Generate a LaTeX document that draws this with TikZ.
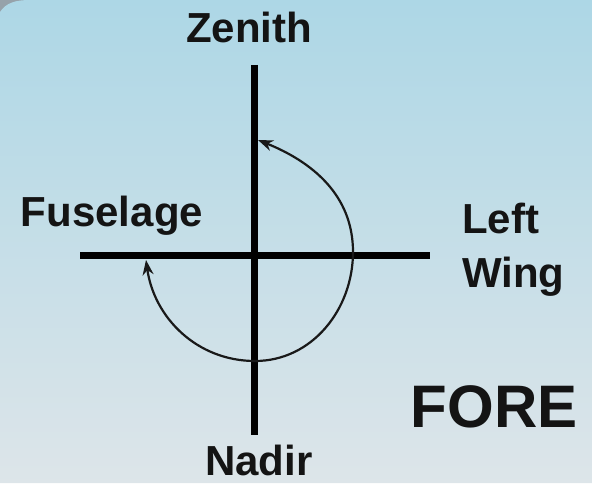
\documentclass[tikz,border=0pt]{standalone}
\usepackage{fontspec}
\setmainfont{Liberation Sans}
\usetikzlibrary{arrows.meta, positioning}
\definecolor{skytop}{RGB}{173,215,230}
\definecolor{skymid}{RGB}{190,220,232}
\definecolor{skybot}{RGB}{221,229,233}
\definecolor{rim}{RGB}{150,162,170}

\begin{document}
\begin{tikzpicture}[x=1pt, y=1pt,
    lbl/.style={font=\fontsize{42}{54}\selectfont\bfseries, text=black!92, inner sep=0pt},
    axisline/.style={line width=7pt, black},
    turn/.style={line width=2.2pt, black!90, {Stealth[length=15pt,width=11pt]}-{Stealth[length=15pt,width=11pt]}}]
    % backdrop
    \fill[rim] (0,0) rectangle (592,483);
    \shade[top color=skytop, middle color=skymid, bottom color=skybot]
        (0,0) -- (0,471) .. controls (6,480) and (15,483) .. (30,483) -- (592,483) -- (592,0) -- cycle;
    \useasboundingbox (0,0) rectangle (592,483);

    % axes
    \coordinate (up) at (254,418);
    \coordinate (down) at (254,48);
    \coordinate (fwd) at (80,228);
    \coordinate (aft) at (430,228);
    \draw[axisline] (up) -- (down);
    \draw[axisline] (fwd) -- (aft);

    % labels
    \node[lbl, anchor=base] (zenith) at (249,440) {Zenith};
    \node[lbl, anchor=base] (nadir) at (259,8) {Nadir};
    \node[lbl, anchor=base] (fuselage) at (112,257) {Fuselage};
    \node[lbl, anchor=base west, align=left] (leftwing) at (462,196) {Left\\Wing};
    \node[lbl, font=\fontsize{60}{66}\selectfont\bfseries, anchor=base] (fore) at (494,56) {FORE};

    % rotation
    \coordinate (tipA) at (146,223);
    \coordinate (low) at (255,122);
    \coordinate (side) at (353,231);
    \coordinate (tipB) at (258,343);
    \draw[turn] (tipA) to[out=-82, in=180] (low) to[out=0, in=-90] (side)
        to[out=90, in=-22] (tipB);
\end{tikzpicture}
\end{document}
